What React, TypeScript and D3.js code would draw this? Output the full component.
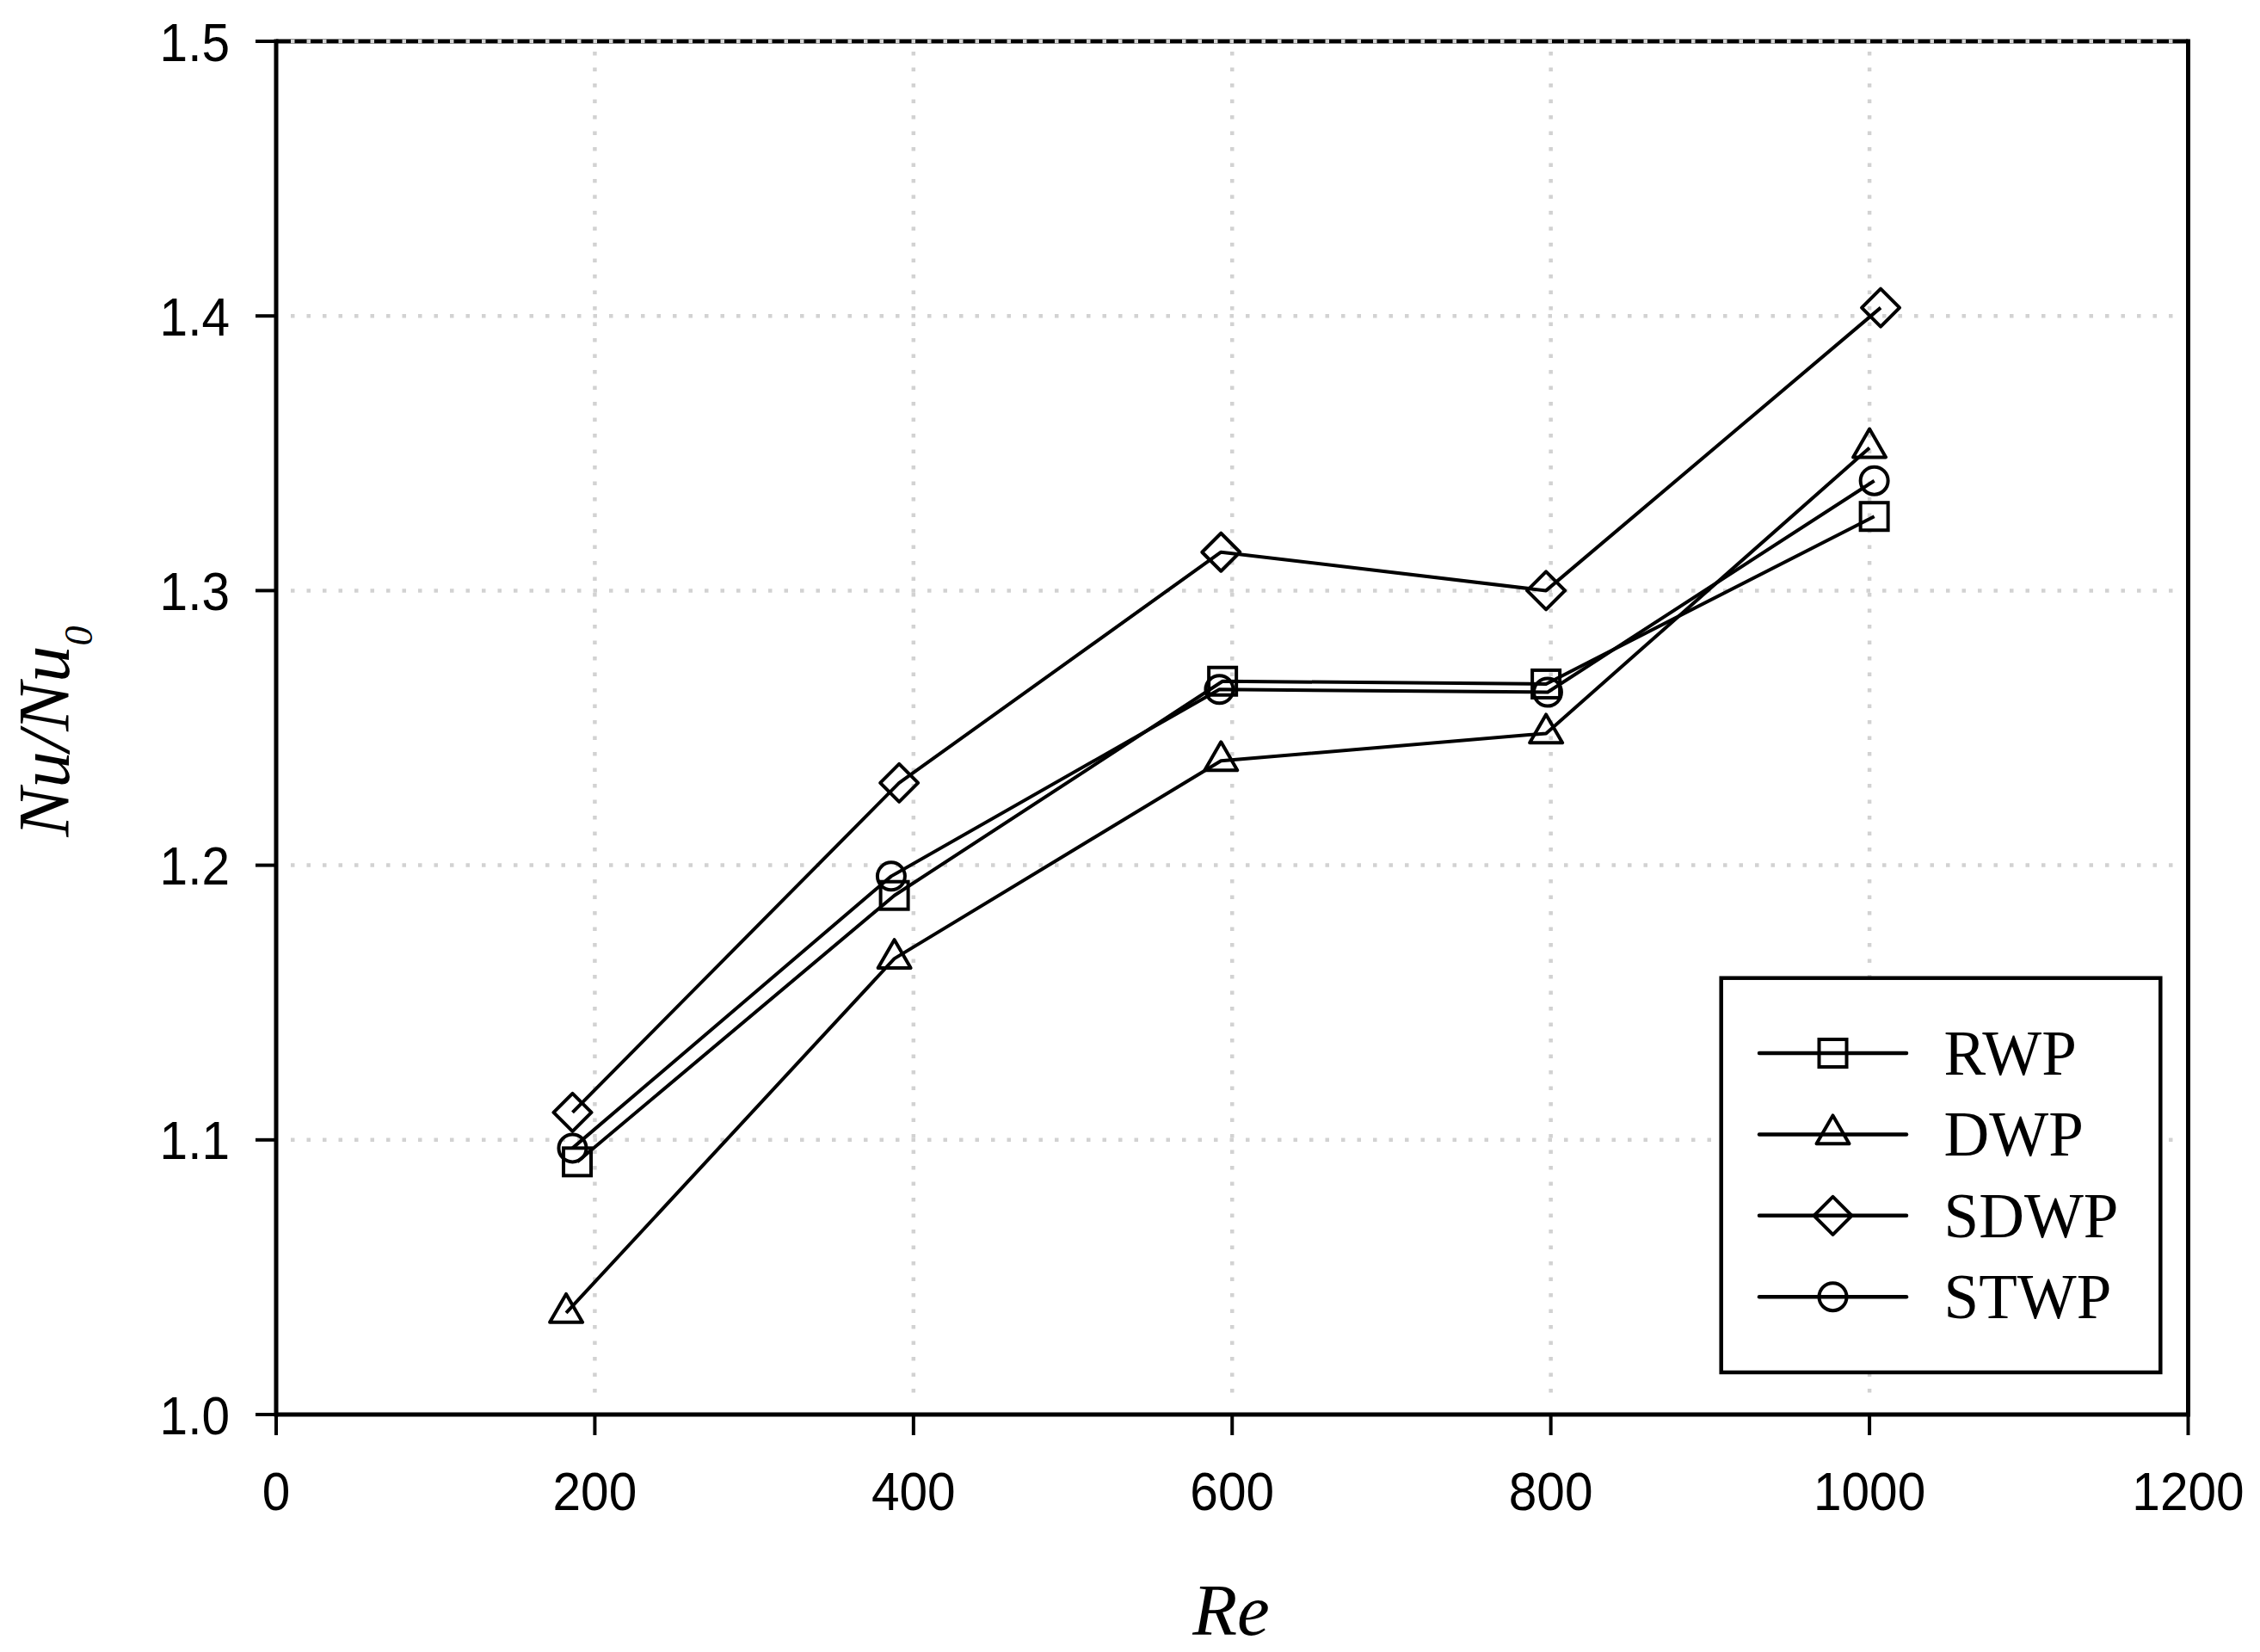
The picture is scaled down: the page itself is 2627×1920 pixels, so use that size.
import React from 'react';
import * as d3 from 'd3';

const xTicks = [0, 200, 400, 600, 800, 1000, 1200];
const yTicks = [1.0, 1.1, 1.2, 1.3, 1.4, 1.5];
const xGrid = [200, 400, 600, 800, 1000];
const yGrid = [1.1, 1.2, 1.3, 1.4, 1.5];

const seriesNames = ['RWP', 'DWP', 'SDWP', 'STWP'];
const seriesMarkers = ['square', 'triangle', 'diamond', 'circle'];

const rwpRe = [189, 388, 594, 797, 1003];
const rwpNu = [1.092, 1.189, 1.267, 1.266, 1.327];
const dwpRe = [182, 388, 593, 797, 1000];
const dwpNu = [1.037, 1.166, 1.238, 1.248, 1.352];
const sdwpRe = [186, 391, 593, 797, 1007];
const sdwpNu = [1.110, 1.230, 1.314, 1.300, 1.403];
const stwpRe = [186, 386, 592, 798, 1003];
const stwpNu = [1.097, 1.196, 1.264, 1.263, 1.340];

const seriesRe = [rwpRe, dwpRe, sdwpRe, stwpRe];
const seriesNu = [rwpNu, dwpNu, sdwpNu, stwpNu];

const W = 2627;
const H = 1920;
const L = 321, R = 2543.5, T = 48, B = 1644;

function Marker({ type, cx, cy }: { type: string; cx: number; cy: number }) {
  const sw = 4;
  if (type === 'square') {
    const s = 32;
    return <rect x={cx - s / 2} y={cy - s / 2} width={s} height={s} fill="none" stroke="#000" strokeWidth={sw} />;
  }
  if (type === 'triangle') {
    const s = 38;
    const h = s * 0.866;
    const p = `M${cx},${cy - (2 * h) / 3} L${cx + s / 2},${cy + h / 3} L${cx - s / 2},${cy + h / 3} Z`;
    return <path d={p} fill="none" stroke="#000" strokeWidth={sw} strokeLinejoin="round" />;
  }
  if (type === 'diamond') {
    const r = 22;
    const p = `M${cx},${cy - r} L${cx + r},${cy} L${cx},${cy + r} L${cx - r},${cy} Z`;
    return <path d={p} fill="none" stroke="#000" strokeWidth={sw} strokeLinejoin="round" />;
  }
  return <circle cx={cx} cy={cy} r={16} fill="none" stroke="#000" strokeWidth={sw} />;
}

export default function App() {
  const x = d3.scaleLinear().domain([0, 1200]).range([L, R]);
  const y = d3.scaleLinear().domain([1.0, 1.5]).range([B, T]);
  const line = d3
    .line<[number, number]>()
    .x((d) => x(d[0]))
    .y((d) => y(d[1]));

  const gridColor = '#d2d2d2';
  const tickFont = "'Liberation Sans', Arial, sans-serif";
  const serif = "'Liberation Serif', 'Times New Roman', serif";

  const legX0 = 2000.7, legY0 = 1136.7, legX1 = 2511.3, legY1 = 1595;
  const legRow0 = 1224, legRowStep = 94.4;

  return (
    <svg
      width={W}
      height={H}
      viewBox={`0 0 ${W} ${H}`}
      style={{ position: 'absolute', left: 0, top: 0, background: '#fff' }}
    >
      <rect x={0} y={0} width={W} height={H} fill="#fff" />
      {/* frame */}
      <g stroke="#000" strokeWidth={5} fill="none">
        <line x1={L} y1={T - 2.5} x2={L} y2={B + 2.5} />
        <line x1={L} y1={B} x2={R + 2.5} y2={B} />
        <line x1={R} y1={T - 2.5} x2={R} y2={B} />
        <line x1={L} y1={T} x2={R} y2={T} />
      </g>
      {/* ticks */}
      <g stroke="#000" strokeWidth={4}>
        {yTicks.map((t) => (
          <line key={'yt' + t} x1={297} y1={y(t)} x2={L} y2={y(t)} />
        ))}
        {xTicks.map((t) => (
          <line key={'xt' + t} x1={x(t)} y1={B} x2={x(t)} y2={1668} />
        ))}
      </g>
      {/* grid */}
      <g stroke={gridColor} strokeWidth={4.5} strokeDasharray="4.5 14" fill="none">
        {yGrid.map((t) => (
          <line key={'yg' + t} x1={L + 17} y1={y(t)} x2={R - 4} y2={y(t)} />
        ))}
        {xGrid.map((t) => (
          <line key={'xg' + t} x1={x(t)} y1={T + 12} x2={x(t)} y2={B - 16} />
        ))}
      </g>
      {/* tick labels */}
      <g fontFamily={tickFont} fontSize={63} fill="#000">
        {yTicks.map((t) => (
          <text key={'yl' + t} transform={`translate(267,${y(t) + 22.5}) scale(0.93,1)`} textAnchor="end">
            {d3.format('.1f')(t)}
          </text>
        ))}
        {xTicks.map((t) => (
          <text key={'xl' + t} transform={`translate(${x(t)},1755) scale(0.93,1)`} textAnchor="middle">
            {String(t)}
          </text>
        ))}
      </g>
      {/* axis titles */}
      <text x={1431} y={1900} fontFamily={serif} fontStyle="italic" fontSize={85} textAnchor="middle">
        Re
      </text>
      <text
        transform="translate(80,850) rotate(-90)"
        fontFamily={serif}
        fontStyle="italic"
        fontSize={85}
        textAnchor="middle"
      >
        Nu/Nu
        <tspan fontSize={46} dy={27}>0</tspan>
      </text>
      {/* data */}
      {seriesNames.map((name, i) => {
        const pts: [number, number][] = seriesRe[i].map((v, j) => [v, seriesNu[i][j]]);
        return (
          <g key={name}>
            <path d={line(pts) || ''} fill="none" stroke="#000" strokeWidth={4} strokeLinejoin="round" />
            {pts.map((p, j) => (
              <Marker key={j} type={seriesMarkers[i]} cx={x(p[0])} cy={y(p[1])} />
            ))}
          </g>
        );
      })}
      {/* legend */}
      <rect
        x={legX0}
        y={legY0}
        width={legX1 - legX0}
        height={legY1 - legY0}
        fill="#fff"
        stroke="#000"
        strokeWidth={4.5}
      />
      {seriesNames.map((name, i) => {
        const ly = legRow0 + i * legRowStep;
        return (
          <g key={'leg' + name}>
            <line x1={2045} y1={ly} x2={2216} y2={ly} stroke="#000" strokeWidth={4.5} strokeLinecap="round" />
            <Marker type={seriesMarkers[i]} cx={2130.5} cy={ly} />
            <text x={2259.6} y={ly + 25} fontFamily={serif} fontSize={73} fill="#000">
              {name}
            </text>
          </g>
        );
      })}
    </svg>
  );
}
